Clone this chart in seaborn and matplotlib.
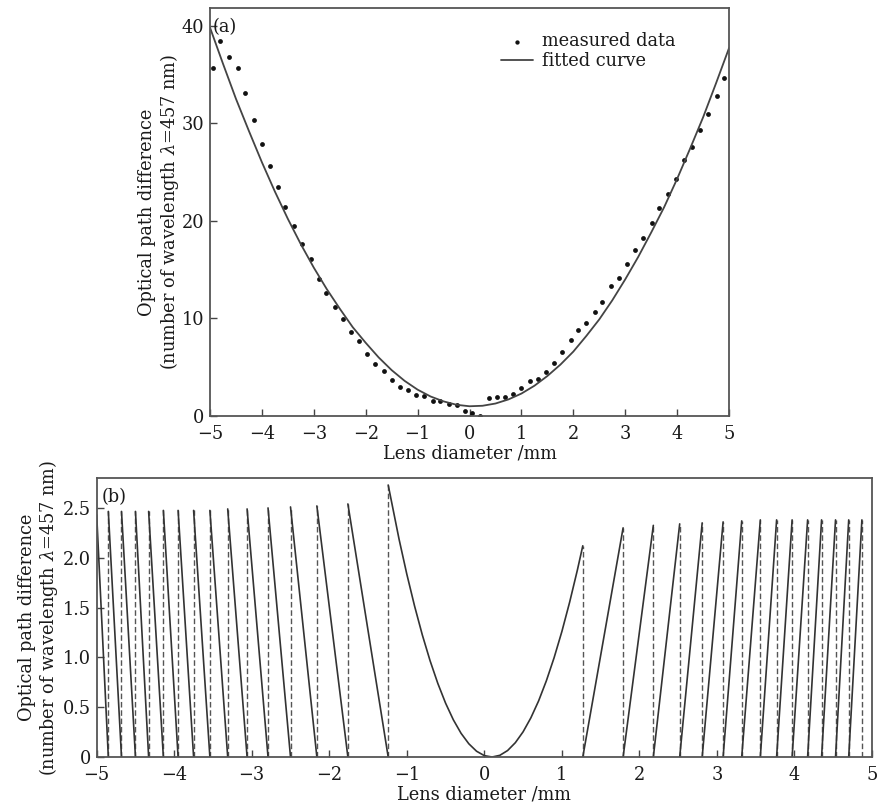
import numpy as np
import pandas as pd
import matplotlib
matplotlib.use("Agg")
import matplotlib.pyplot as plt
import seaborn as sns

# ---------------- data ----------------
# Panel (a): measured data
meas_x = [-4.95, -4.80, -4.64, -4.47, -4.32, -4.16, -4.00, -3.85, -3.69, -3.55,
          -3.38, -3.22, -3.06, -2.90, -2.76, -2.60, -2.43, -2.28, -2.13, -1.97,
          -1.82, -1.65, -1.50, -1.34, -1.19, -1.03, -0.87, -0.71, -0.56, -0.40,
          -0.25, -0.09, 0.05, 0.21, 0.37, 0.53, 0.69, 0.84, 1.00, 1.16,
          1.31, 1.47, 1.62, 1.79, 1.95, 2.09, 2.25, 2.41, 2.56, 2.72,
          2.88, 3.04, 3.19, 3.35, 3.51, 3.66, 3.82, 3.98, 4.13, 4.28,
          4.44, 4.60, 4.76, 4.91]
meas_y = [35.7, 38.4, 36.8, 35.7, 33.1, 30.3, 27.9, 25.6, 23.5, 21.4,
          19.5, 17.6, 16.1, 14.0, 12.6, 11.2, 9.9, 8.6, 7.7, 6.4,
          5.3, 4.65, 3.7, 3.0, 2.7, 2.15, 2.0, 1.5, 1.5, 1.26,
          1.13, 0.53, 0.27, 0.03, 1.85, 1.9, 1.98, 2.3, 2.9, 3.55,
          3.76, 4.5, 5.4, 6.6, 7.8, 8.8, 9.5, 10.7, 11.7, 13.3,
          14.1, 15.6, 17.0, 18.2, 19.8, 21.3, 22.7, 24.3, 26.2, 27.6,
          29.3, 30.9, 32.8, 34.6]

# Panel (a): fitted curve
fit_x = [-5.0, -4.75, -4.5, -4.25, -4.0, -3.75, -3.5, -3.25, -3.0, -2.75,
         -2.5, -2.25, -2.0, -1.75, -1.5, -1.25, -1.0, -0.75, -0.5, -0.25,
         0.0, 0.25, 0.5, 0.75, 1.0, 1.25, 1.5, 1.75, 2.0, 2.25,
         2.5, 2.75, 3.0, 3.25, 3.5, 3.75, 4.0, 4.25, 4.5, 4.75, 5.0]
fit_y = [39.8, 36.1, 32.5, 29.2, 26.0, 23.0, 20.2, 17.6, 15.2, 13.0,
         11.0, 9.1, 7.5, 6.0, 4.7, 3.6, 2.7, 2.0, 1.5, 1.15,
         1.0, 1.05, 1.28, 1.7, 2.3, 3.1, 4.1, 5.26, 6.6, 8.2,
         9.9, 11.85, 14.0, 16.3, 18.8, 21.4, 24.3, 27.4, 30.6, 34.1, 37.7]

# Panel (b): wrapped profile
left_edges = [-5.0, -4.85, -4.68, -4.50, -4.33, -4.14, -3.95, -3.75, -3.54,
              -3.31, -3.06, -2.79, -2.50, -2.16, -1.76, -1.24]
left_peaks = [2.43, 2.465, 2.465, 2.465, 2.465, 2.475, 2.475, 2.475, 2.475,
              2.49, 2.49, 2.50, 2.51, 2.52, 2.54]
center_x = [-1.24, -1.1, -1.0, -0.9, -0.8, -0.7, -0.6, -0.5, -0.4, -0.3, -0.2,
            -0.1, 0.0, 0.1, 0.2, 0.3, 0.4, 0.5, 0.6, 0.7, 0.8, 0.9, 1.0,
            1.1, 1.2, 1.27]
center_y = [2.73, 2.187, 1.836, 1.516, 1.226, 0.967, 0.739, 0.541, 0.374,
            0.238, 0.133, 0.058, 0.014, 0.0, 0.017, 0.065, 0.144, 0.253,
            0.393, 0.563, 0.765, 0.997, 1.259, 1.553, 1.876, 2.12]
right_edges = [1.27, 1.79, 2.18, 2.52, 2.81, 3.08, 3.32, 3.56, 3.77, 3.97,
               4.17, 4.35, 4.53, 4.70, 4.87]
right_peaks = [2.30, 2.325, 2.34, 2.35, 2.36, 2.37, 2.38, 2.38, 2.38, 2.38,
               2.38, 2.38, 2.38, 2.38]

xticks = [-5, -4, -3, -2, -1, 0, 1, 2, 3, 4, 5]
xticklabels = ["\u22125", "\u22124", "\u22123", "\u22122", "\u22121", "0", "1", "2", "3", "4", "5"]
yticks_a = [0, 10, 20, 30, 40]
yticks_b = [0, 0.5, 1.0, 1.5, 2.0, 2.5]
yticklabels_b = ["0", "0.5", "1.0", "1.5", "2.0", "2.5"]

# ---------------- build tables ----------------
df_meas = pd.DataFrame({"x": meas_x, "y": meas_y})
df_fit = pd.DataFrame({"x": fit_x, "y": fit_y})

rows = []
seg = 0
for i in range(len(left_peaks)):
    rows.append((seg, left_edges[i], left_peaks[i]))
    rows.append((seg, left_edges[i + 1], 0.0))
    seg += 1
for cx, cy in zip(center_x, center_y):
    rows.append((seg, cx, cy))
seg += 1
for i in range(len(right_peaks)):
    rows.append((seg, right_edges[i], 0.0))
    rows.append((seg, right_edges[i + 1], right_peaks[i]))
    seg += 1
df_solid = pd.DataFrame(rows, columns=["seg", "x", "y"])

drows = []
dseg = 0
dash_pos = left_edges[1:]
dash_h = left_peaks[1:] + [center_y[0]]
for xp, h in zip(dash_pos, dash_h):
    drows.append((dseg, xp, 0.0)); drows.append((dseg, xp, h)); dseg += 1
dash_pos_r = right_edges
dash_h_r = [center_y[-1]] + right_peaks
for xp, h in zip(dash_pos_r, dash_h_r):
    drows.append((dseg, xp, 0.0)); drows.append((dseg, xp, h)); dseg += 1
df_dash = pd.DataFrame(drows, columns=["seg", "x", "y"])

# ---------------- style ----------------
sns.set_theme(style="ticks")
plt.rcParams["font.family"] = ["DejaVu Serif"]
plt.rcParams["mathtext.fontset"] = "dejavuserif"
plt.rcParams["text.color"] = "#1a1a1a"
plt.rcParams["axes.labelcolor"] = "#1a1a1a"
plt.rcParams["xtick.color"] = "#444444"
plt.rcParams["ytick.color"] = "#444444"
plt.rcParams["xtick.labelcolor"] = "#1a1a1a"
plt.rcParams["ytick.labelcolor"] = "#1a1a1a"

fig = plt.figure(figsize=(8.79, 8.10), dpi=100)
ax1 = fig.add_axes([0.2389, 0.4864, 0.5905, 0.5037])
ax2 = fig.add_axes([0.110, 0.0654, 0.882, 0.3444])

ylabel = "Optical path difference\n(number of wavelength $\\lambda$=457 nm)"
FS = 12.8

# ---- panel (a)
sns.lineplot(data=df_fit, x="x", y="y", ax=ax1, color="#444444", lw=1.3,
             sort=False, estimator=None, label="fitted curve")
sns.scatterplot(data=df_meas, x="x", y="y", ax=ax1, color="#111111", s=12,
                linewidth=0, label="measured data")
ax1.set_xlim(-5, 5)
ax1.set_ylim(0, 41.8)
ax1.set_xticks(xticks)
ax1.set_xticklabels(xticklabels)
ax1.set_yticks(yticks_a)
ax1.set_xlabel("Lens diameter /mm", fontsize=FS, labelpad=1)
ax1.set_ylabel(ylabel, fontsize=FS, linespacing=1.1)
ax1.yaxis.set_label_coords(-0.056, 0.5)
ax1.text(0.006, 0.976, "(a)", transform=ax1.transAxes, fontsize=FS,
         ha="left", va="top")
h, l = ax1.get_legend_handles_labels()
order = [l.index("measured data"), l.index("fitted curve")]
ax1.legend([h[i] for i in order], [l[i] for i in order], loc="upper left",
           bbox_to_anchor=(0.56, 0.94), frameon=False, fontsize=FS,
           handlelength=1.8, handletextpad=0.55, labelspacing=0.1,
           borderpad=0, borderaxespad=0, markerscale=0.9)

# ---- panel (b)
sns.lineplot(data=df_dash, x="x", y="y", units="seg", estimator=None,
             sort=False, ax=ax2, color="#555555", lw=1.0,
             linestyle=(0, (4, 2)))
sns.lineplot(data=df_solid, x="x", y="y", units="seg", estimator=None,
             sort=False, ax=ax2, color="#333333", lw=1.2)
ax2.set_xlim(-5, 5)
ax2.set_ylim(0, 2.80)
ax2.set_xticks(xticks)
ax2.set_xticklabels(xticklabels)
ax2.set_yticks(yticks_b)
ax2.set_yticklabels(yticklabels_b)
ax2.set_xlabel("Lens diameter /mm", fontsize=FS, labelpad=1)
ax2.set_ylabel(ylabel, fontsize=FS, linespacing=1.1)
ax2.yaxis.set_label_coords(-0.047, 0.5)
ax2.text(0.006, 0.965, "(b)", transform=ax2.transAxes, fontsize=FS,
         ha="left", va="top")

for ax in (ax1, ax2):
    for sp in ax.spines.values():
        sp.set_visible(True)
        sp.set_color("#555555")
        sp.set_linewidth(1.3)
    ax.tick_params(axis="both", direction="in", length=5, width=1.0,
                   labelsize=FS, top=False, right=False)
    ax.tick_params(axis="x", pad=6.5)
    ax.tick_params(axis="y", pad=4)
    ax.set_facecolor("white")

fig.patch.set_facecolor("white")
fig.savefig("out.png", dpi=100, facecolor="white")
